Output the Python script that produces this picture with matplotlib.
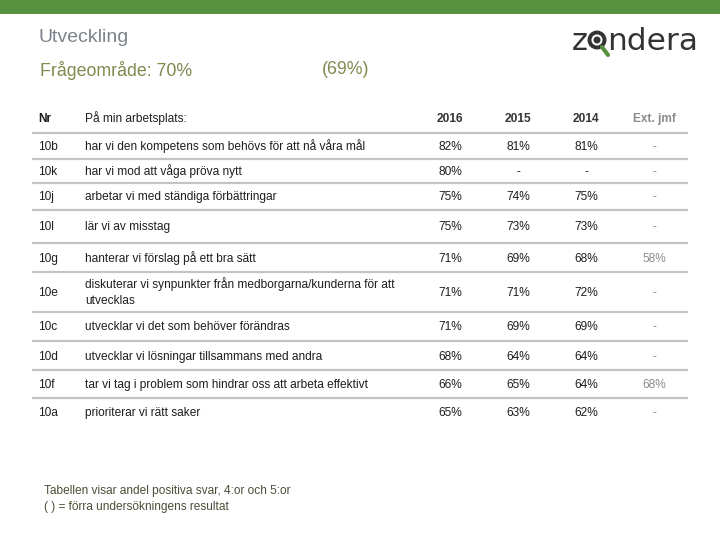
import matplotlib.pyplot as plt
from matplotlib.patches import Rectangle, Circle

# ==========================================
# DATA
# ==========================================
TITLE = "Utveckling"
AREA_LABEL = "Frågeområde: 70%"
AREA_PREV = "(69%)"
HEADER_ITEM = "På min arbetsplats:"
YEARS = ["2016", "2015", "2014", "Ext. jmf"]

NR = ["10b", "10k", "10j", "10l", "10g", "10e", "10c", "10d", "10f", "10a"]
QUESTIONS = [
    "har vi den kompetens som behövs för att nå våra mål",
    "har vi mod att våga pröva nytt",
    "arbetar vi med ständiga förbättringar",
    "lär vi av misstag",
    "hanterar vi förslag på ett bra sätt",
    "diskuterar vi synpunkter från medborgarna/kunderna för att\nutvecklas",
    "utvecklar vi det som behöver förändras",
    "utvecklar vi lösningar tillsammans med andra",
    "tar vi tag i problem som hindrar oss att arbeta effektivt",
    "prioriterar vi rätt saker",
]
V2016 = ["82%", "80%", "75%", "75%", "71%", "71%", "71%", "68%", "66%", "65%"]
V2015 = ["81%", "-", "74%", "73%", "69%", "71%", "69%", "64%", "65%", "63%"]
V2014 = ["81%", "-", "75%", "73%", "68%", "72%", "69%", "64%", "64%", "62%"]
EXT = ["-", "-", "-", "-", "58%", "-", "-", "-", "68%", "-"]

FOOTNOTE = ["Tabellen visar andel positiva svar, 4:or och 5:or",
            "( ) = förra undersökningens resultat"]

# ==========================================
# LAYOUT (pixels)
# ==========================================
ROW_EDGES = [133, 159, 183, 210, 243, 272, 312, 341, 370, 398, 427]
COL_X = [450, 518, 586, 654]
FONT = "Liberation Sans"
BODY = 8.6
DARK = "#1e1e1e"
GRAY = "#8a8a8a"
LINE = "#c3c3c3"
LH = 16  # line height of wrapped text
BL = 4   # centre -> baseline offset

fig = plt.figure(figsize=(7.2, 5.4), dpi=100)
ax = fig.add_axes([0, 0, 1, 1])
ax.set_xlim(0, 720)
ax.set_ylim(540, 0)
ax.axis("off")


def line_text(x, yc, s, **kw):
    # texto de una o varias lineas centrado en yc
    parts = s.split("\n")
    y0 = yc - (len(parts) - 1) * LH / 2
    for k, p in enumerate(parts):
        ax.text(x, round(y0 + k * LH + BL), p, fontsize=BODY, family=FONT,
                va="baseline", **kw)


# top green bar
ax.add_patch(Rectangle((0, 0), 720, 14, color="#58913f", lw=0))

# titles
ax.text(38, 37, TITLE, fontsize=14, color="#7d838c", family=FONT, va="center")
ax.text(40, 70, AREA_LABEL, fontsize=12.8, color="#7f8a4e", family=FONT, va="center")
ax.text(322, 70, AREA_PREV, fontsize=12.8, color="#7f8a4e", family=FONT, va="center")

# logo
ax.text(572, 50, "z", fontsize=22, color="#333333", family="DejaVu Sans", va="baseline")
ax.add_patch(Circle((597, 40), 7.5, fill=False, ec="#333333", lw=2.8))
ax.add_patch(Circle((597, 40), 3.5, color="#333333", lw=0))
ax.plot([602, 608], [47, 55], color="#58913f", lw=3, solid_capstyle="round")
ax.text(607, 50, "ndera", fontsize=22.5, color="#333333", family="DejaVu Sans", va="baseline")

# header
line_text(38, 118, "Nr", fontweight="bold", color=DARK)
line_text(85, 118, HEADER_ITEM, color=DARK)
for x, lab in zip(COL_X, YEARS):
    col = GRAY if lab.startswith("Ext") else "#333333"
    line_text(x, 118, lab, fontweight="bold", color=col, ha="center")

# separators
for y in ROW_EDGES[:-1]:
    ax.plot([32, 688], [y, y], color=LINE, lw=1.6, solid_capstyle="butt")

# rows
for i in range(len(NR)):
    yc = (ROW_EDGES[i] + ROW_EDGES[i + 1]) / 2
    line_text(38, yc, NR[i], color=DARK)
    line_text(85, yc, QUESTIONS[i], color=DARK)
    for x, vals in zip(COL_X[:3], [V2016, V2015, V2014]):
        line_text(x, yc, vals[i], color=DARK, ha="center")
    line_text(COL_X[3], yc, EXT[i], color=GRAY, ha="center")

# footnote
line_text(44, 498, "\n".join(FOOTNOTE), color="#4d4d38")

fig.savefig("out.png", dpi=100)
